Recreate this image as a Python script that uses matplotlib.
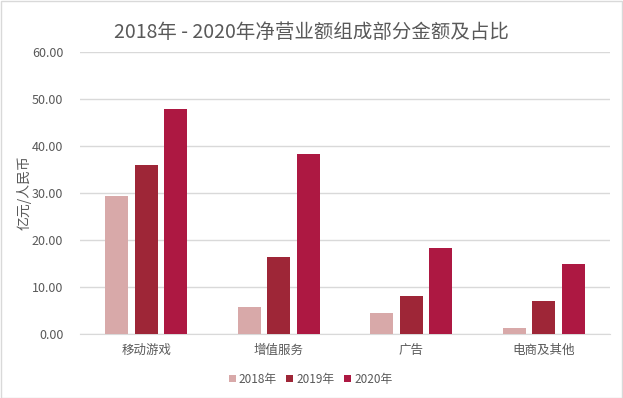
import matplotlib.pyplot as plt
import numpy as np

plt.rcParams['font.family'] = ['Noto Sans CJK SC', 'DejaVu Sans']

categories = ['移动游戏', '增值服务', '广告', '电商及其他']
years = ['2018年', '2019年', '2020年']
v2018 = [29.4, 5.7, 4.5, 1.3]
v2019 = [36.0, 16.4, 8.1, 7.0]
v2020 = [47.9, 38.3, 18.3, 14.9]
colors = ['#D8A9A9', '#9E2637', '#AD1842']

fig = plt.figure(figsize=(6.23, 3.98), dpi=100)
ax = fig.add_axes([80 / 623, 1 - 334 / 398, 530 / 623, 282 / 398])

x = np.arange(len(categories))
w = 0.174
step = 0.221
for i, (vals, yr) in enumerate(zip([v2018, v2019, v2020], years)):
    ax.bar(x + (i - 1) * step, vals, width=w, color=colors[i], label=yr, zorder=3)

ax.set_xlim(-0.5, 3.5)
ax.set_ylim(0, 60)
ax.set_yticks(np.arange(0, 61, 10))
ax.set_yticklabels([f'{t:.2f}' for t in np.arange(0, 61, 10)])
ax.set_xticks(x)
ax.set_xticklabels(categories)
ax.grid(axis='y', color='#D9D9D9', linewidth=1, zorder=0)
for s in ['top', 'right', 'left']:
    ax.spines[s].set_visible(False)
ax.spines['bottom'].set_color('#D9D9D9')
ax.tick_params(axis='both', length=0, colors='#595959', labelsize=9)
ax.tick_params(axis='y', pad=12)
ax.tick_params(axis='x', pad=7)
ax.set_ylabel('亿元/人民币', color='#595959', fontsize=10, labelpad=0)

fig.suptitle('2018年 - 2020年净营业额组成部分金额及占比', y=0.945, fontsize=14, color='#595959')

ax.legend(loc='upper center', bbox_to_anchor=(0.435, -0.1), ncol=3, frameon=False,
          fontsize=8.5, labelcolor='#595959', handlelength=0.6, handleheight=0.6,
          handletextpad=0.25, columnspacing=0.8)

fig.patches.append(plt.Rectangle((0.001, 0.001), 0.997, 0.997, transform=fig.transFigure,
                                 fill=False, edgecolor='#D9D9D9', linewidth=1))

fig.savefig('out.png', dpi=100)
